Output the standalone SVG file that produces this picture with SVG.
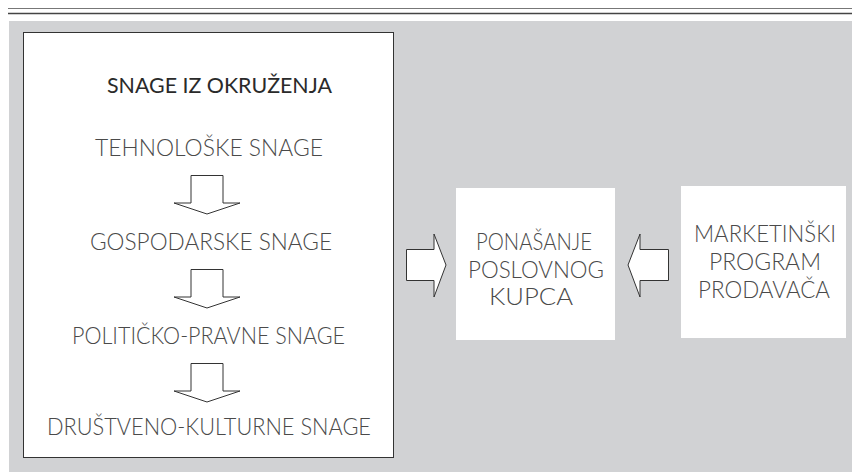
<svg xmlns="http://www.w3.org/2000/svg" width="852" height="474" viewBox="0 0 852 474">
<style>
.t{font-family:Lato,"Open Sans","Liberation Sans",sans-serif;font-weight:300;font-size:23.5px;fill:#4a4a4a;text-anchor:middle}
.title{font-weight:400;font-size:21px;fill:#2a2a2a}
.arr{fill:#fff;stroke:#333;stroke-width:1}
.box{fill:#fff}
</style>
<rect x="0" y="0" width="852" height="474" fill="#fff"/>
<line x1="8" y1="8.5" x2="852" y2="8.5" stroke="#777" stroke-width="1"/>
<line x1="8" y1="13.5" x2="852" y2="13.5" stroke="#444" stroke-width="1.5"/>
<rect x="9" y="21" width="843" height="451" fill="#d1d2d4"/>
<g id="env">
<rect x="23.5" y="32.5" width="370" height="425" class="box" stroke="#333" stroke-width="1"/>
<text class="t title" x="219.5" y="93" textLength="225" lengthAdjust="spacingAndGlyphs">SNAGE IZ OKRUŽENJA</text>
<text class="t" x="209" y="156" textLength="228" lengthAdjust="spacingAndGlyphs">TEHNOLOŠKE SNAGE</text>
<text class="t" x="211" y="250" textLength="242" lengthAdjust="spacingAndGlyphs">GOSPODARSKE SNAGE</text>
<text class="t" x="208.5" y="344" textLength="273" lengthAdjust="spacingAndGlyphs">POLITIČKO-PRAVNE SNAGE</text>
<text class="t" x="209" y="435" textLength="324" lengthAdjust="spacingAndGlyphs">DRUŠTVENO-KULTURNE SNAGE</text>
</g>
<g id="buyer">
<rect x="456" y="188" width="159" height="152" class="box"/>
<text class="t" x="534" y="250" textLength="116" lengthAdjust="spacingAndGlyphs">PONAŠANJE</text>
<text class="t" x="536" y="278" textLength="136" lengthAdjust="spacingAndGlyphs">POSLOVNOG</text>
<text class="t" x="531" y="305" textLength="84" lengthAdjust="spacingAndGlyphs">KUPCA</text>
</g>
<g id="seller">
<rect x="681" y="186" width="165" height="152" class="box"/>
<text class="t" x="765" y="242" textLength="142" lengthAdjust="spacingAndGlyphs">MARKETINŠKI</text>
<text class="t" x="765" y="270" textLength="112" lengthAdjust="spacingAndGlyphs">PROGRAM</text>
<text class="t" x="764" y="298" textLength="132" lengthAdjust="spacingAndGlyphs">PRODAVAČA</text>
</g>
<g id="connectors">
<polygon class="arr" points="191,175.5 223,175.5 223,203 240,203 207,214 174,203 191,203"/>
<polygon class="arr" points="191,269.5 223,269.5 223,297 240,297 207,308 174,297 191,297"/>
<polygon class="arr" points="191,363.5 223,363.5 223,391 240,391 207,402 174,391 191,391"/>
<polygon class="arr" points="406.5,249.5 434,249.5 434,234 446,265 434,297 434,280.5 406.5,280.5"/>
<polygon class="arr" points="668.5,249.5 640,249.5 640,234 628,265 640,297 640,280.5 668.5,280.5"/>
</g>
</svg>
